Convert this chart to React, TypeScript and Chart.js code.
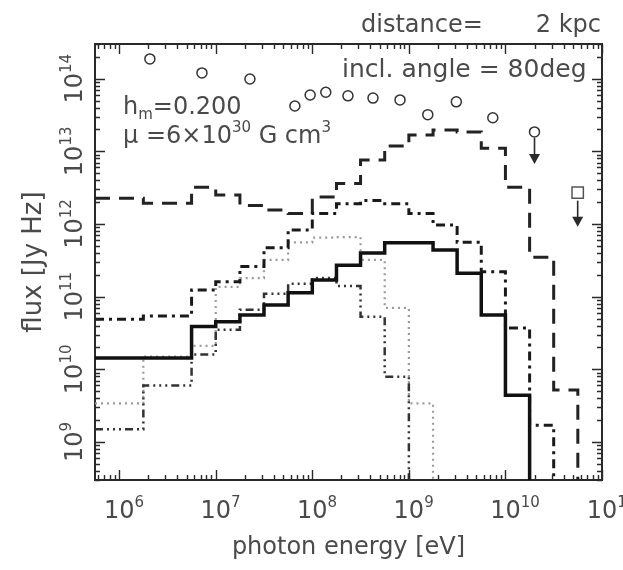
import React, { useEffect, useRef } from "react";
import { Chart, registerables } from "chart.js";

Chart.register(...registerables);

// Photon energy bin edges [eV], quarter-decade bins
const binEdges = [
  5.62e5, 1e6, 1.78e6, 3.16e6, 5.62e6, 1e7, 1.78e7, 3.16e7, 5.62e7, 1e8, 1.78e8,
  3.16e8, 5.62e8, 1e9, 1.78e9, 3.16e9, 5.62e9, 1e10, 1.78e10, 3.16e10, 5.62e10, 1e11,
];

// Model flux per bin [Jy Hz]; 0 = below the plotted range
const fluxDashed = [
  2.26e12, 2.26e12, 1.93e12, 1.93e12, 3.2e12, 2.5e12, 1.8e12, 1.56e12, 1.4e12, 2.35e12,
  3.6e12, 7.6e12, 1.18e13, 1.68e13, 1.97e13, 1.85e13, 1.1e13, 3.2e12, 3.5e11, 5.2e9, 0,
];
const fluxDashDot = [
  4.9e10, 4.9e10, 5.4e10, 5.4e10, 1.24e11, 1.6e11, 2.6e11, 4.7e11, 8.3e11, 1.4e12,
  1.9e12, 2.1e12, 1.9e12, 1.4e12, 9.7e11, 5.6e11, 2.2e11, 3.7e10, 1.7e9, 0, 0,
];
const fluxSolid = [
  1.43e10, 1.43e10, 1.43e10, 1.43e10, 3.9e10, 4.5e10, 5.6e10, 7.7e10, 1.13e11, 1.7e11,
  2.7e11, 4.0e11, 5.5e11, 5.5e11, 4.4e11, 2.1e11, 5.6e10, 4.4e9, 0, 0, 0,
];
const fluxDotted = [
  3.4e9, 3.4e9, 1.5e10, 1.5e10, 2.1e10, 1.36e11, 1.8e11, 3.2e11, 5.6e11, 6.5e11,
  6.6e11, 3.2e11, 7.0e10, 3.4e9, 0, 0, 0, 0, 0, 0, 0,
];
const fluxDashDotDot = [
  1.5e9, 1.5e9, 6e9, 6e9, 1.6e10, 3.5e10, 6.6e10, 1.1e11, 1.5e11, 1.8e11,
  1.4e11, 5.3e10, 7.9e9, 0, 0, 0, 0, 0, 0, 0, 0,
];

// Measured fluxes
const obsEnergy = [2.08e6, 7.2e6, 2.26e7, 6.6e7, 9.5e7, 1.38e8, 2.34e8, 4.25e8, 8.1e8, 1.57e9, 3.1e9, 7.4e9];
const obsFlux = [1.87e14, 1.2e14, 9.9e13, 4.2e13, 5.96e13, 6.5e13, 5.8e13, 5.4e13, 5.1e13, 3.2e13, 4.8e13, 2.9e13];

// Upper limits
const limitCircleEnergy = [2.0e10];
const limitCircleFlux = [1.85e13];
const limitSquareEnergy = [5.6e10];
const limitSquareFlux = [2.7e12];

// Axis ranges and labelled decades
const energyMin = 5.62e5;
const energyMax = 1e11;
const fluxMin = 3e8;
const fluxMax = 3e14;
const fluxFloor = 1e8; // below the axis: histogram drops off the bottom
const xTickExponents = ["6", "7", "8", "9", "10", "11"];
const yTickExponents = ["9", "10", "11", "12", "13", "14"];

const FONT = "'DejaVu Sans', 'Liberation Sans', sans-serif";
const INK = "#2a2a2a";
const TEXT = "#4a4a4a";

type Run = [string, number]; // 0 normal, 1 superscript, -1 subscript

// Histogram outline: one point per bin start, closed by the last edge or a drop to the floor
function stepPoints(values: number[]) {
  const pts: { x: number; y: number }[] = [];
  for (let i = 0; i < values.length; i++) {
    if (values[i] > 0) {
      pts.push({ x: binEdges[i], y: values[i] });
    } else {
      pts.push({ x: binEdges[i], y: values[i - 1] });
      pts.push({ x: binEdges[i], y: fluxFloor });
      return pts;
    }
  }
  pts.push({ x: binEdges[values.length], y: values[values.length - 1] });
  return pts;
}

function runFont(size: number, kind: number) {
  return `${kind === 0 ? size : Math.round(size * 0.64)}px ${FONT}`;
}

function runsWidth(ctx: CanvasRenderingContext2D, runs: Run[], size: number) {
  let w = 0;
  for (const [t, k] of runs) {
    ctx.font = runFont(size, k);
    w += ctx.measureText(t).width;
  }
  return w;
}

function drawRuns(ctx: CanvasRenderingContext2D, runs: Run[], x: number, y: number, size: number) {
  let cx = x;
  ctx.textAlign = "left";
  ctx.textBaseline = "alphabetic";
  for (const [t, k] of runs) {
    ctx.font = runFont(size, k);
    const dy = k === 1 ? -size * 0.45 : k === -1 ? size * 0.22 : 0;
    ctx.fillText(t, cx, y + dy);
    cx += ctx.measureText(t).width;
  }
  return cx;
}

function logTicks(min: number, max: number) {
  const out: { v: number; major: boolean }[] = [];
  for (let k = Math.floor(Math.log10(min)); k <= Math.ceil(Math.log10(max)); k++) {
    for (let m = 1; m <= 9; m++) {
      const v = m * Math.pow(10, k);
      if (v >= min * 0.999 && v <= max * 1.001) out.push({ v, major: m === 1 });
    }
  }
  return out;
}

const decorPlugin = {
  id: "decor",
  afterDatasetsDraw(chart: any) {
    const { ctx, chartArea: a, scales } = chart;
    const xs = scales.x;
    const ys = scales.y;
    ctx.save();

    // inward tick marks on all four sides
    ctx.strokeStyle = INK;
    ctx.lineWidth = 1.4;
    ctx.beginPath();
    for (const t of logTicks(energyMin, energyMax)) {
      const px = Math.round(xs.getPixelForValue(t.v)) + 0.5;
      const len = t.major ? 10 : 5;
      ctx.moveTo(px, a.bottom);
      ctx.lineTo(px, a.bottom - len);
      ctx.moveTo(px, a.top);
      ctx.lineTo(px, a.top + len);
    }
    for (const t of logTicks(fluxMin, fluxMax)) {
      const py = Math.round(ys.getPixelForValue(t.v)) + 0.5;
      const len = t.major ? 10 : 5;
      ctx.moveTo(a.left, py);
      ctx.lineTo(a.left + len, py);
      ctx.moveTo(a.right, py);
      ctx.lineTo(a.right - len, py);
    }
    ctx.stroke();

    // upper-limit arrows
    ctx.fillStyle = INK;
    ctx.lineWidth = 1.6;
    const arrows: [number, number][] = [
      [2, 6],
      [3, 8],
    ];
    for (const [di, off] of arrows) {
      const meta = chart.getDatasetMeta(di);
      for (const el of meta.data) {
        const x = el.x;
        const y0 = el.y + off;
        const y1 = y0 + 26;
        ctx.beginPath();
        ctx.moveTo(x, y0);
        ctx.lineTo(x, y1 - 8);
        ctx.stroke();
        ctx.beginPath();
        ctx.moveTo(x - 5.5, y1 - 10);
        ctx.lineTo(x + 5.5, y1 - 10);
        ctx.lineTo(x, y1);
        ctx.closePath();
        ctx.fill();
      }
    }
    ctx.restore();
  },
  afterDraw(chart: any) {
    const { ctx, chartArea: a, scales } = chart;
    const xs = scales.x;
    const ys = scales.y;
    const S = 24;
    ctx.save();
    ctx.fillStyle = TEXT;

    // x tick labels: 10^n with the mantissa centred on the tick
    for (const e of xTickExponents) {
      const px = xs.getPixelForValue(Math.pow(10, Number(e)));
      ctx.font = runFont(S, 0);
      const bw = ctx.measureText("10").width;
      drawRuns(ctx, [["10", 0], [e, 1]], px - bw / 2, a.bottom + 38, S);
    }

    // y tick labels, rotated to read upwards, whole label centred on the tick
    for (const e of yTickExponents) {
      const py = ys.getPixelForValue(Math.pow(10, Number(e)));
      const runs: Run[] = [["10", 0], [e, 1]];
      ctx.save();
      ctx.translate(a.left - 13, py);
      ctx.rotate(-Math.PI / 2);
      const w = runsWidth(ctx, runs, S);
      drawRuns(ctx, runs, -w / 2, 0, S);
      ctx.restore();
    }

    // axis titles
    ctx.font = `${S}px ${FONT}`;
    ctx.textAlign = "center";
    ctx.textBaseline = "alphabetic";
    ctx.fillText("photon energy [eV]", (a.left + a.right) / 2, a.bottom + 74);
    ctx.save();
    ctx.translate(a.left - 54, (a.top + a.bottom) / 2);
    ctx.rotate(-Math.PI / 2);
    ctx.font = `26px ${FONT}`;
    ctx.fillText("flux [Jy Hz]", 0, 0);
    ctx.restore();

    // header
    ctx.font = `${S}px ${FONT}`;
    ctx.textAlign = "left";
    ctx.fillText("distance=", a.left + 266, a.top - 12);
    ctx.textAlign = "right";
    ctx.fillText("2 kpc", a.right - 1, a.top - 12);

    // annotations inside the frame
    ctx.textAlign = "left";
    ctx.font = `25px ${FONT}`;
    ctx.fillText("incl. angle = 80deg", a.left + 247, a.top + 33);
    drawRuns(ctx, [["h", 0], ["m", -1], ["=0.200", 0]], a.left + 28, a.top + 70, S);
    drawRuns(ctx, [["\u03bc =6\u00d710", 0], ["30", 1], [" G cm", 0], ["3", 1]], a.left + 28, a.top + 99, S);
    ctx.restore();
  },
};

export default function App() {
  const canvasRef = useRef<HTMLCanvasElement | null>(null);

  useEffect(() => {
    const canvas = canvasRef.current;
    if (!canvas) return;

    const axisBase = {
      type: "logarithmic" as const,
      grid: { display: false },
      ticks: { display: false },
      border: { display: true, color: INK, width: 2 },
    };

    const lineBase = {
      type: "line" as const,
      stepped: "before" as const,
      pointRadius: 0,
      fill: false,
    };

    const chart = new Chart(canvas, {
      type: "line",
      data: {
        datasets: [
          {
            ...lineBase,
            label: "solid",
            data: stepPoints(fluxSolid),
            borderColor: "#111",
            borderWidth: 3.5,
          },
          {
            type: "line",
            label: "measured",
            data: obsEnergy.map((x, i) => ({ x, y: obsFlux[i] })),
            showLine: false,
            pointStyle: "circle",
            pointRadius: 5,
            pointBorderWidth: 1.5,
            pointBorderColor: "#333",
            pointBackgroundColor: "rgba(255,255,255,0)",
          },
          {
            type: "line",
            label: "limit circle",
            data: limitCircleEnergy.map((x, i) => ({ x, y: limitCircleFlux[i] })),
            showLine: false,
            pointStyle: "circle",
            pointRadius: 5,
            pointBorderWidth: 1.5,
            pointBorderColor: "#333",
            pointBackgroundColor: "rgba(255,255,255,0)",
          },
          {
            type: "line",
            label: "limit square",
            data: limitSquareEnergy.map((x, i) => ({ x, y: limitSquareFlux[i] })),
            showLine: false,
            pointStyle: "rect",
            pointRadius: 8,
            pointBorderWidth: 1.5,
            pointBorderColor: "#555",
            pointBackgroundColor: "rgba(255,255,255,0)",
          },
          {
            ...lineBase,
            label: "dash-dot",
            data: stepPoints(fluxDashDot),
            borderColor: "#1a1a1a",
            borderWidth: 3,
            borderDash: [9, 5, 3, 5],
          },
          {
            ...lineBase,
            label: "dashed",
            data: stepPoints(fluxDashed),
            borderColor: "#222",
            borderWidth: 3,
            borderDash: [15, 9],
          },
          {
            ...lineBase,
            label: "dash-dot-dot-dot",
            data: stepPoints(fluxDashDotDot),
            borderColor: "#333",
            borderWidth: 2.5,
            borderDash: [8, 4, 2, 4, 2, 4, 2, 4],
          },
          {
            ...lineBase,
            label: "dotted",
            data: stepPoints(fluxDotted),
            borderColor: "#9a9a9a",
            borderWidth: 2.2,
            borderDash: [2, 4],
          },
        ],
      },
      options: {
        animation: false,
        responsive: false,
        devicePixelRatio: 1,
        events: [],
        layout: { padding: { left: 87, top: 36, right: 13, bottom: 82 } },
        plugins: {
          legend: { display: false },
          tooltip: { enabled: false },
          title: { display: false },
        },
        scales: {
          x: { ...axisBase, axis: "x", position: "bottom", min: energyMin, max: energyMax },
          x2: { ...axisBase, axis: "x", position: "top", min: energyMin, max: energyMax },
          y: { ...axisBase, axis: "y", position: "left", min: fluxMin, max: fluxMax },
          y2: { ...axisBase, axis: "y", position: "right", min: fluxMin, max: fluxMax },
        },
      } as any,
      plugins: [decorPlugin],
    });

    return () => chart.destroy();
  }, []);

  return (
    <canvas
      ref={canvasRef}
      width={623}
      height={570}
      style={{ position: "fixed", left: 0, top: 0, width: 623, height: 570, display: "block", background: "#fff" }}
    />
  );
}
